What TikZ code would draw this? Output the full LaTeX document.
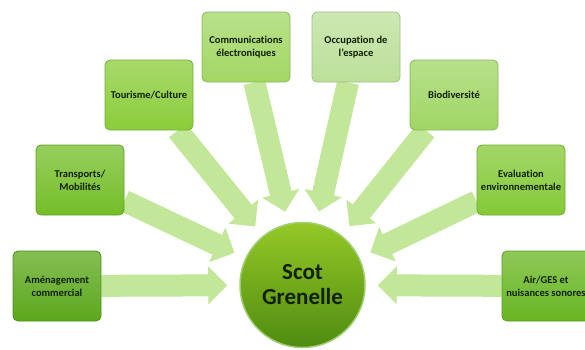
\documentclass[tikz,border=0pt]{standalone}
\usepackage{fontspec}
\setmainfont{Carlito}[Ligatures=NoCommon]
\usetikzlibrary{arrows.meta,backgrounds}

\definecolor{txtgreen}{HTML}{102000}
\definecolor{arrowgreen}{HTML}{C2E799}
\definecolor{ballgreen}{HTML}{62AE14}
\definecolor{amen}{HTML}{5CA81C}
\definecolor{transp}{HTML}{74BE28}
\definecolor{tour}{HTML}{8ACD3A}
\definecolor{comm}{HTML}{A2D764}
\definecolor{occ}{HTML}{BCE09A}
\definecolor{bio}{HTML}{A0D664}
\definecolor{evalc}{HTML}{84C936}
\definecolor{air}{HTML}{68B622}

\tikzset{
  box/.style={rectangle, rounded corners=5pt, minimum width=88pt,
    minimum height=70pt, align=center, text=txtgreen,
    font=\fontsize{10.5}{13}\selectfont\bfseries,
    top color=#1!75!white, bottom color=#1, draw=#1!85!black, line width=0.8pt},
  bigarrow/.style={arrowgreen, line width=22pt, shorten >=12pt,
    -{Triangle[length=19pt,width=37pt]}},
}

\begin{document}
\begin{tikzpicture}[x=1pt,y=1pt]
  \clip (0,0) rectangle (585,-349);
  \useasboundingbox (0,0) rectangle (585,-349);

  \node[circle, minimum size=125pt, top color=ballgreen!75!yellow!90!white,
    bottom color=ballgreen!80!black, draw=ballgreen!60!white, line width=1.5pt,
    align=center, text=txtgreen,
    font=\fontsize{23}{25}\selectfont\bfseries] (scot) at (302.5,-285) {Scot\\Grenelle};

  \node[box=amen] (amenag) at (57,-286) {Aménagement\\commercial};
  \node[box=transp] (transports) at (80,-180) {Transports/\\Mobilités};
  \node[box=tour] (tourisme) at (149,-95) {Tourisme/Culture};
  \node[box=comm] (communic) at (246,-47) {Communications\\électroniques};
  \node[box=occ] (occupation) at (356,-47) {Occupation de\\l'espace};
  \node[box=bio] (biodiv) at (454,-95) {Biodiversité};
  \node[box=evalc] (evaluation) at (521,-180) {Evaluation\\environnementale};
  \node[box=air] (airges) at (546,-286) {Air/GES et\\nuisances sonores};

  \begin{scope}[on background layer]
    \foreach \src in {amenag,transports,tourisme,communic,occupation,biodiv,evaluation,airges}
      \draw[bigarrow] (\src) -- (scot);
  \end{scope}
\end{tikzpicture}
\end{document}
